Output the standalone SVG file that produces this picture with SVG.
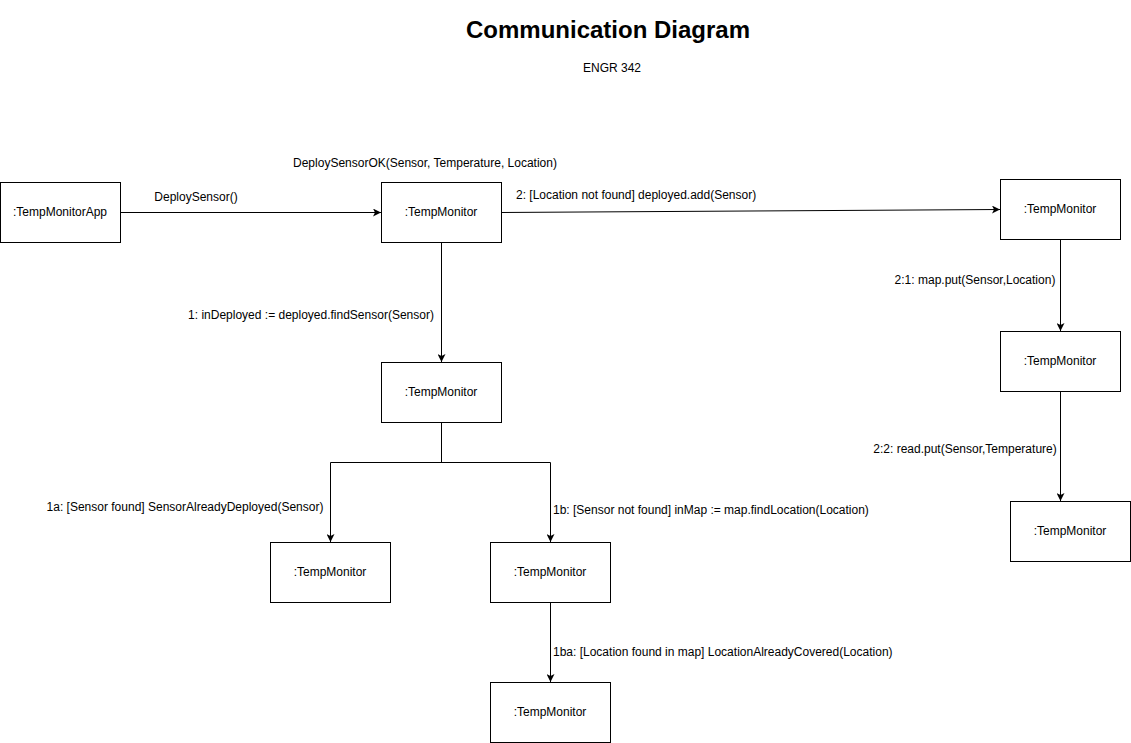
<svg xmlns="http://www.w3.org/2000/svg" width="1131" height="743" viewBox="0 0 1131 743">
<style>
.box{fill:#fff;stroke:#000;stroke-width:1}
.lbl{font-family:"Liberation Sans",Arial,sans-serif;font-size:12px;fill:#000}
.c{text-anchor:middle}
.edge{fill:none;stroke:#000;stroke-width:1;marker-end:url(#arr)}
.line{fill:none;stroke:#000;stroke-width:1}
</style>
<defs>
<marker id="arr" viewBox="0 0 10 10" refX="10" refY="5" markerWidth="8" markerHeight="8" markerUnits="userSpaceOnUse" orient="auto">
<path d="M0,0 L10,5 L0,10 L2.5,5 Z" fill="#000"/>
</marker>
</defs>
<rect width="1131" height="743" fill="#fff"/>
<text x="608" y="38" class="c" style="font-family:'Liberation Sans',Arial,sans-serif;font-size:24px;font-weight:bold">Communication Diagram</text>
<text x="612" y="72" class="lbl c">ENGR 342</text>

<g id="connectors">
<path class="edge" d="M120.5,212.5 L381,212.5"/>
<path class="edge" d="M501.5,212.5 L1000,209.5"/>
<path class="edge" d="M441.5,242.5 L441.5,362"/>
<path class="line" d="M441.5,422.5 L441.5,462.5 M330.5,462.5 L550.5,462.5"/>
<path class="edge" d="M330.5,462.5 L330.5,542"/>
<path class="edge" d="M550.5,462.5 L550.5,542"/>
<path class="edge" d="M550.5,602.5 L550.5,682"/>
<path class="edge" d="M1060.5,239.5 L1060.5,331"/>
<path class="edge" d="M1060.5,391.5 L1060.5,501"/>
<text x="196" y="201" class="lbl c">DeploySensor()</text>
<text x="425" y="167" class="lbl c">DeploySensorOK(Sensor, Temperature, Location)</text>
<text x="516" y="199" class="lbl">2: [Location not found] deployed.add(Sensor)</text>
<text x="311" y="319" class="lbl c">1: inDeployed := deployed.findSensor(Sensor)</text>
<text x="185" y="511" class="lbl c">1a: [Sensor found] SensorAlreadyDeployed(Sensor)</text>
<text x="553" y="514" class="lbl">1b: [Sensor not found] inMap := map.findLocation(Location)</text>
<text x="553" y="656" class="lbl">1ba: [Location found in map] LocationAlreadyCovered(Location)</text>
<text x="975" y="284" class="lbl c">2:1: map.put(Sensor,Location)</text>
<text x="965" y="453" class="lbl c">2:2: read.put(Sensor,Temperature)</text>
</g>

<g id="n_app"><rect class="box" x="0.5" y="182.5" width="120" height="60"/><text x="60" y="216" class="lbl c">:TempMonitorApp</text></g>
<g id="n_tm1"><rect class="box" x="381.5" y="182.5" width="120" height="60"/><text x="441" y="216" class="lbl c">:TempMonitor</text></g>
<g id="n_tm_r1"><rect class="box" x="1000.5" y="179.5" width="120" height="60"/><text x="1060" y="213" class="lbl c">:TempMonitor</text></g>
<g id="n_tm_r2"><rect class="box" x="1000.5" y="331.5" width="120" height="60"/><text x="1060" y="365" class="lbl c">:TempMonitor</text></g>
<g id="n_tm_r3"><rect class="box" x="1010.5" y="501.5" width="120" height="60"/><text x="1070" y="535" class="lbl c">:TempMonitor</text></g>
<g id="n_tm2"><rect class="box" x="381.5" y="362.5" width="120" height="60"/><text x="441" y="396" class="lbl c">:TempMonitor</text></g>
<g id="n_tm_1a"><rect class="box" x="270.5" y="542.5" width="120" height="60"/><text x="330" y="576" class="lbl c">:TempMonitor</text></g>
<g id="n_tm_1b"><rect class="box" x="490.5" y="542.5" width="120" height="60"/><text x="550" y="576" class="lbl c">:TempMonitor</text></g>
<g id="n_tm_1ba"><rect class="box" x="490.5" y="682.5" width="120" height="60"/><text x="550" y="716" class="lbl c">:TempMonitor</text></g>
</svg>
